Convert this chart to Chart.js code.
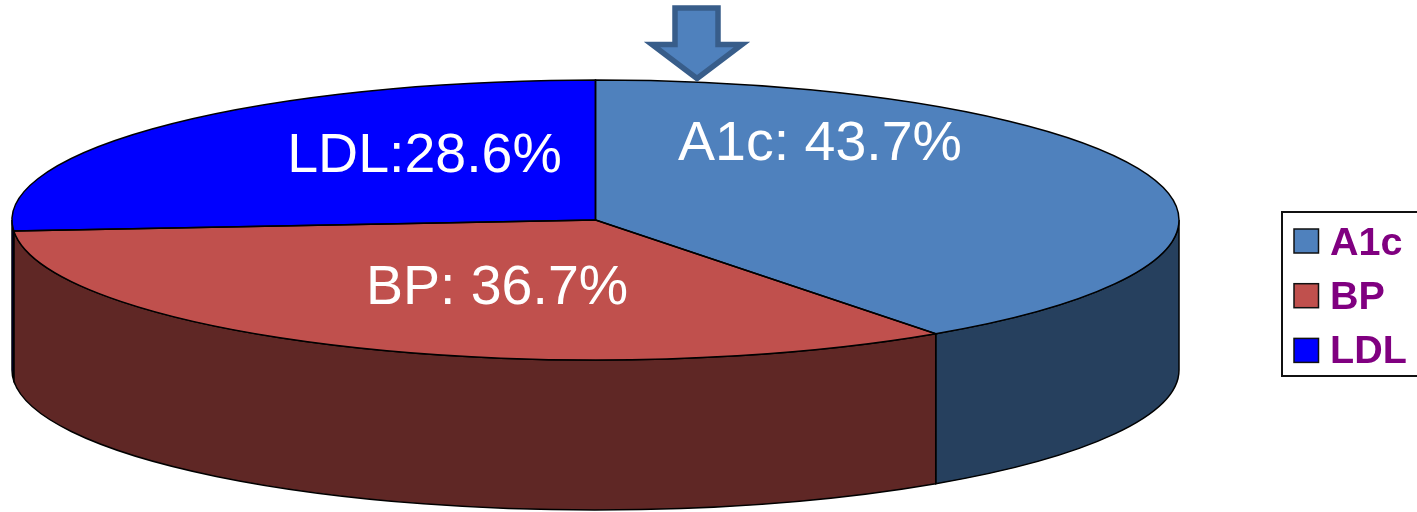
<!DOCTYPE html>
<html>
<head>
<meta charset="utf-8">
<title>A1c, BP and LDL shares</title>
<script src="https://cdn.jsdelivr.net/npm/chart.js@4"></script>
<style>
  html, body { margin: 0; background: #fff; }
  canvas { display: block; }
</style>
</head>
<body>
<canvas id="pie" width="1417" height="512"></canvas>
<script>
const categories = ['A1c', 'BP', 'LDL'];
const shares = [43.7, 36.7, 28.6];
const separators = [': ', ': ', ':'];
const topColors = ['#4F81BD', '#C0504D', '#0000FF'];
const sideColors = ['#26405E', '#5F2725', '#00008B'];
const labelAnchors = [[820, 160], [497, 303.5], [424.5, 172]];

// The pie is laid out as a circle, then flattened into a tilted disc
const RX = 583.5;
const RY = 140;
const DEPTH = 150;
const FONT = '"Liberation Sans", Arial, sans-serif';

const discPlugin = {
  id: 'disc',
  beforeDatasetsDraw(chart) {
    const ctx = chart.ctx;
    const arcs = chart.getDatasetMeta(0).data;
    const { x, y, outerRadius } = arcs[0];

    // Rim: only the part of each slice on the near half of the disc
    ctx.save();
    ctx.strokeStyle = '#000';
    ctx.lineWidth = 1.5;
    arcs.forEach((arc, i) => {
      const from = Math.max(arc.startAngle, 0);
      const to = Math.min(arc.endAngle, Math.PI);
      if (to <= from) return;
      ctx.beginPath();
      ctx.ellipse(x, y, RX, RY, 0, from, to);
      ctx.ellipse(x, y + DEPTH, RX, RY, 0, to, from, true);
      ctx.closePath();
      ctx.fillStyle = sideColors[i];
      ctx.fill();
      ctx.stroke();
    });
    ctx.restore();

    // Slices are filled by the library inside this flattened transform
    ctx.save();
    ctx.translate(x, y);
    ctx.scale(RX / outerRadius, RY / outerRadius);
    ctx.translate(-x, -y);
  },
  afterDatasetsDraw(chart) {
    const ctx = chart.ctx;
    ctx.restore();

    const arcs = chart.getDatasetMeta(0).data;
    ctx.save();
    ctx.strokeStyle = '#000';
    ctx.lineWidth = 1.5;
    arcs.forEach((arc) => {
      ctx.beginPath();
      ctx.moveTo(arc.x, arc.y);
      ctx.ellipse(arc.x, arc.y, RX, RY, 0, arc.startAngle, arc.endAngle);
      ctx.closePath();
      ctx.stroke();
    });

    ctx.fillStyle = '#fff';
    ctx.font = '55.5px ' + FONT;
    ctx.textAlign = 'center';
    ctx.textBaseline = 'alphabetic';
    categories.forEach((name, i) => {
      const [lx, ly] = labelAnchors[i];
      ctx.fillText(name + separators[i] + shares[i].toFixed(1) + '%', lx, ly);
    });
    ctx.restore();
  },
  afterDraw(chart) {
    const ctx = chart.ctx;
    ctx.save();

    // Down arrow above the start of the first slice
    ctx.beginPath();
    ctx.moveTo(675, 8);
    ctx.lineTo(718, 8);
    ctx.lineTo(718, 44.5);
    ctx.lineTo(742, 44.5);
    ctx.lineTo(697, 78.5);
    ctx.lineTo(652, 44.5);
    ctx.lineTo(675, 44.5);
    ctx.closePath();
    ctx.fillStyle = '#4F81BD';
    ctx.fill();
    ctx.strokeStyle = '#385D8A';
    ctx.lineWidth = 5.5;
    ctx.stroke();

    // Legend box, its right side runs off the page
    ctx.strokeStyle = '#111';
    ctx.lineWidth = 2;
    ctx.strokeRect(1282, 212, 150, 164);
    ctx.font = 'bold 39.5px ' + FONT;
    ctx.textAlign = 'left';
    ctx.textBaseline = 'alphabetic';
    categories.forEach((name, i) => {
      const top = 229 + i * 54.7;
      ctx.fillStyle = topColors[i];
      ctx.fillRect(1294, top, 24.5, 24);
      ctx.strokeStyle = '#111';
      ctx.lineWidth = 1.5;
      ctx.strokeRect(1294, top, 24.5, 24);
      ctx.fillStyle = '#800080';
      ctx.fillText(name, 1330, 255 + i * 54);
    });
    ctx.restore();
  }
};

new Chart(document.getElementById('pie'), {
  type: 'pie',
  data: {
    labels: categories,
    datasets: [{
      data: shares,
      backgroundColor: topColors,
      borderWidth: 0,
      clip: false
    }]
  },
  options: {
    responsive: false,
    animation: false,
    layout: { padding: { left: 375.5, right: 601.5, top: 0, bottom: 72 } },
    plugins: {
      legend: { display: false },
      tooltip: { enabled: false }
    }
  },
  plugins: [discPlugin]
});
</script>
</body>
</html>
